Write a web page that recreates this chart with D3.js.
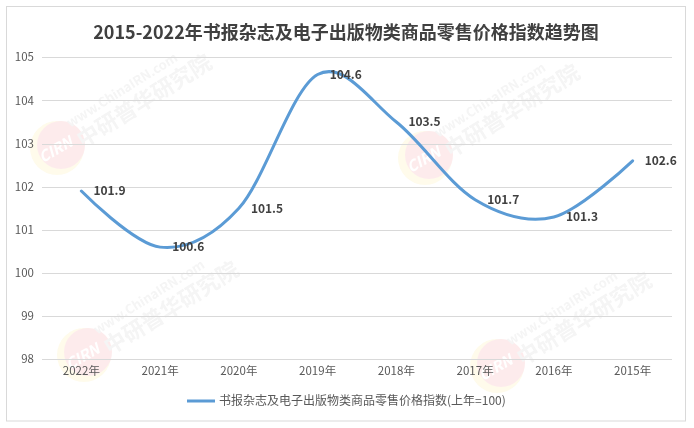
<!DOCTYPE html>
<html>
<head>
<meta charset="utf-8">
<script src="https://cdn.jsdelivr.net/npm/d3@7"></script>
<style>
  html, body { margin: 0; padding: 0; background: #fff; }
  svg { display: block; font-family: "Microsoft YaHei", "Noto Sans CJK SC", "Noto Sans", sans-serif; }
</style>
</head>
<body>
<svg id="chart" width="694" height="428"></svg>
<script>
const title = "2015-2022年书报杂志及电子出版物类商品零售价格指数趋势图";
const categories = ["2022年", "2021年", "2020年", "2019年", "2018年", "2017年", "2016年", "2015年"];
const values = [101.9, 100.6, 101.5, 104.6, 103.5, 101.7, 101.3, 102.6];
const yTicks = [98, 99, 100, 101, 102, 103, 104, 105];
const seriesName = "书报杂志及电子出版物类商品零售价格指数(上年=100)";

const W = 694, H = 428;
const plot = { left: 42, right: 672, top: 57.3, bottom: 359.3 };
const svg = d3.select("#chart");

// outer border
svg.append("rect").attr("x", 6.5).attr("y", 6.5).attr("width", 679).attr("height", 414.5)
  .attr("fill", "#fff").attr("stroke", "#d9d9d9").attr("stroke-width", 1);

// watermarks
const wm = svg.append("g").attr("opacity", 0.09);
const wmPos = [[57, 148], [425, 158], [84, 355], [497, 366]];
wmPos.forEach(([cx, cy]) => {
  const g = wm.append("g").attr("transform", `translate(${cx},${cy})`);
  g.append("circle").attr("r", 27).attr("fill", "#f5d020");
  g.append("circle").attr("cx", 4).attr("cy", -3).attr("r", 24).attr("fill", "#e8202a");
  g.append("text").attr("transform", "rotate(-30)").attr("x", -20).attr("y", 6)
    .attr("fill", "#fff").attr("font-size", 15).attr("font-weight", "bold").attr("font-style", "italic").text("CIRN");
  const t = g.append("g").attr("transform", "rotate(-32)");
  t.append("text").attr("x", 22).attr("y", -10).attr("fill", "#888").attr("font-size", 13)
    .attr("font-weight", "bold").text("www.ChinaIRN.com");
  t.append("text").attr("x", 22).attr("y", 14).attr("fill", "#888").attr("font-size", 22)
    .attr("font-weight", "bold").text("中研普华研究院");
});

// scales
const x = d3.scaleBand().domain(categories).range([plot.left, plot.right]);
const y = d3.scaleLinear().domain([98, 105]).range([plot.bottom, plot.top]);

// gridlines
svg.append("g").selectAll("line").data(yTicks).join("line")
  .attr("x1", plot.left).attr("x2", plot.right)
  .attr("y1", d => Math.round(y(d)) + 0.5).attr("y2", d => Math.round(y(d)) + 0.5)
  .attr("stroke", "#d9d9d9").attr("stroke-width", 1);

// y axis labels
const yAxis = d3.axisLeft(y).tickValues(yTicks).tickFormat(d3.format("d")).tickSize(0).tickPadding(8);
const yg = svg.append("g").attr("transform", `translate(${plot.left},0)`).call(yAxis);
yg.select(".domain").remove();
yg.selectAll("text").attr("font-size", 11.5).attr("fill", "#595959")
  .attr("font-family", "\"Microsoft YaHei\", \"Noto Sans CJK SC\", sans-serif");

// x axis labels
const xAxis = d3.axisBottom(x).tickSize(0).tickPadding(8);
const xg = svg.append("g").attr("transform", `translate(0,${plot.bottom})`).call(xAxis);
xg.select(".domain").remove();
xg.selectAll("text").attr("font-size", 11.5).attr("fill", "#595959")
  .attr("font-family", "\"Microsoft YaHei\", \"Noto Sans CJK SC\", sans-serif");

// line
const cx = d => x(d) + x.bandwidth() / 2;
const line = d3.line()
  .x((d, i) => cx(categories[i]))
  .y(d => y(d))
  .curve(d3.curveCardinal.tension(0));
svg.append("path").datum(values).attr("d", line)
  .attr("fill", "none").attr("stroke", "#5b9bd5").attr("stroke-width", 3)
  .attr("stroke-linecap", "round").attr("stroke-linejoin", "round");

// data labels
svg.append("g").selectAll("text").data(values).join("text")
  .attr("x", (d, i) => cx(categories[i]) + 12)
  .attr("y", d => y(d))
  .attr("dy", "0.35em")
  .attr("font-size", 12).attr("font-weight", "bold").attr("fill", "#404040")
  .text(d => d.toFixed(1));

// title
svg.append("text").attr("x", 346).attr("y", 33).attr("dy", "0.35em")
  .attr("text-anchor", "middle").attr("font-size", 18).attr("font-weight", "bold")
  .attr("fill", "#404040").text(title);

// legend
svg.append("line").attr("x1", 187).attr("x2", 215).attr("y1", 401).attr("y2", 401)
  .attr("stroke", "#5b9bd5").attr("stroke-width", 3);
svg.append("text").attr("x", 219).attr("y", 401).attr("dy", "0.35em")
  .attr("font-size", 12).attr("fill", "#595959").text(seriesName);
</script>
</body>
</html>
